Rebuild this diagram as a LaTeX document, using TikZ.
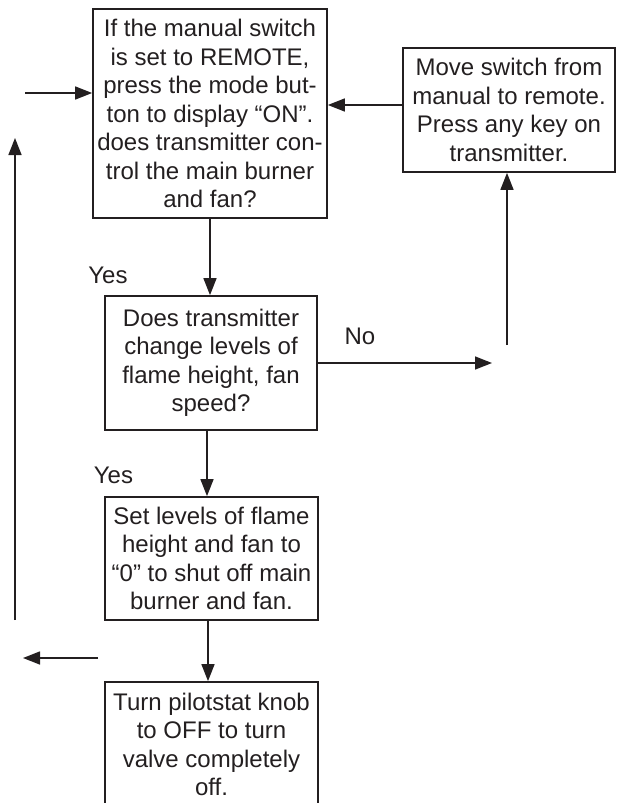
\documentclass[tikz,border=0pt]{standalone}
\usepackage{fontspec}
\setmainfont{Liberation Sans}
\usetikzlibrary{positioning,arrows.meta}
\definecolor{ink}{HTML}{231F20}

\begin{document}
\begin{tikzpicture}[x=1pt,y=-1pt,
  txt/.style={text=ink,font=\fontsize{24}{28.5}\selectfont},
  box/.style={txt,draw=ink,line width=1.7pt,align=center,inner sep=0pt,minimum width=213pt},
  arr/.style={draw=ink,line width=1.5pt,-{Triangle[length=17pt,width=13pt]}}]
  \useasboundingbox (0,0) rectangle (621,803);
  \clip (0,0) rectangle (621,803);

  \node[box,minimum width=234pt,minimum height=209pt] (q1) at (210,113.5)
    {If the manual switch\\is set to REMOTE,\\press the mode but-\\ton to display “ON”.\\does transmitter con-\\trol the main burner\\and fan?};
  \node[box,minimum width=212pt,minimum height=124pt] (mv) at (509,110)
    {Move switch from\\manual to remote.\\Press any key on\\transmitter.};
  \node[box,minimum width=212pt,minimum height=134pt] (q2) at (211,363)
    {Does transmitter\\change levels of\\flame height, fan\\speed?};
  \node[box,minimum height=123pt] (set) at (211.5,558.5)
    {Set levels of flame\\height and fan to\\“0” to shut off main\\burner and fan.};
  \node[box,minimum height=125pt] (off) at (211.5,744.5)
    {Turn pilotstat knob\\to OFF to turn\\valve completely\\off.};

  % loose ends of the loop arrows
  \coordinate (in1) at (25,93);
  \coordinate (no) at (492,363);
  \coordinate (up) at (507,345);
  \coordinate (back1) at (98,658);
  \coordinate (back2) at (23,658);
  \coordinate (lo) at (15,620);
  \coordinate (hi) at (15,138);

  \draw[arr] (in1) -- (in1 -| q1.west);
  \draw[arr] (mv.west |- 0,105) -- (q1.east |- 0,105);
  \draw[arr] (q1.south) -- (q1.south |- q2.north);
  \draw[arr] (q2.east) -- (no);
  \draw[arr] (up) -- (up |- mv.south);
  \draw[arr] (q2.south -| 207,0) -- (set.north -| 207,0);
  \draw[arr] (set.south -| 208,0) -- (off.north -| 208,0);
  \draw[arr] (back1) -- (back2);
  \draw[arr] (lo) -- (hi);

  \node[txt] (yes1) at (108,275) {Yes};
  \node[txt] (lbno) at (360,336.5) {No};
  \node[txt] (yes2) at (113.5,475) {Yes};
\end{tikzpicture}
\end{document}
